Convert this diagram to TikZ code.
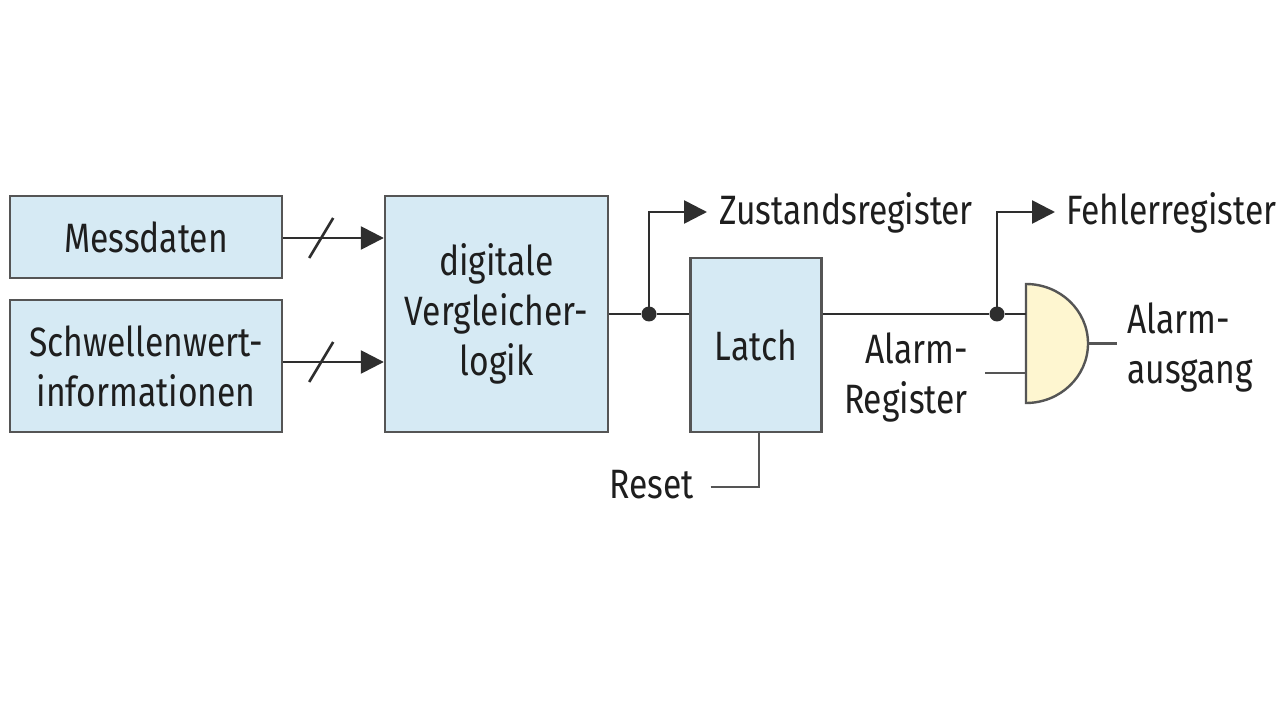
\documentclass[tikz,border=0pt]{standalone}
\usepackage{fontspec}
\setmainfont{Fira Sans}[FakeStretch=0.82]
\usetikzlibrary{arrows.meta,calc}
\definecolor{boxfill}{HTML}{D6EAF4}
\definecolor{boxline}{HTML}{555555}
\definecolor{gatefill}{HTML}{FEF6D0}
\definecolor{wire}{HTML}{2E2E2E}
\definecolor{txt}{HTML}{1E1E1E}
\begin{document}
\begin{tikzpicture}[x=1pt,y=-1pt,
  every node/.style={font=\fontsize{41}{50}\selectfont, text=txt},
  blockbox/.style={draw=boxline, fill=boxfill, line width=2.4pt, inner sep=0pt, align=center},
  wireline/.style={draw=wire, line width=2.6pt},
  arr/.style={wireline, -{Triangle[length=23pt,width=23pt]}},
  junction/.style={circle, fill=wire, inner sep=0pt, minimum size=15pt},
  lbl/.style={inner sep=0pt}
]
\useasboundingbox (0,0) rectangle (1280,719);
\fill[white] (0,0) rectangle (1280,719);

% blocks
\node[blockbox, minimum width=272pt, minimum height=82pt] (mess) at (146,237) {Messdaten};
\node[blockbox, minimum width=272pt, minimum height=132pt] (schw) at (146,366) {Schwellenwert-\\informationen};
\node[blockbox, minimum width=223pt, minimum height=236pt] (dig) at (496.5,314) {digitale\\Vergleicher-\\logik};
\node[blockbox, minimum width=131pt, minimum height=174pt] (latch) at (756,345) {Latch};

% input arrows with bus slashes
\coordinate (a1s) at ([yshift=-1pt]mess.east);
\coordinate (a2s) at ([yshift=4pt]schw.east);
\draw[arr] (a1s) -- (dig.west |- a1s);
\draw[arr] (a2s) -- (dig.west |- a2s);
\coordinate (sl1) at ($(a1s)+(38,0)$);
\coordinate (sl2) at ($(a2s)+(38,0)$);
\draw[wireline] ($(sl1)+(-12,20)$) -- ($(sl1)+(12,-20)$);
\draw[wireline] ($(sl2)+(-12,20)$) -- ($(sl2)+(12,-20)$);

% comparator -> latch with junction
\node[junction] (j1) at (649,314) {};
\draw[wireline] (dig.east |- j1) -- (j1) -- (latch.west |- j1);
\node[lbl, anchor=base west] (zust) at (719,225) {Zustandsregister};
\coordinate (z1) at (649,212);
\draw[arr] (j1.center) -- (z1) -- ($(zust.west |- z1)+(-12,0)$);

% gate (drawn directly)
\coordinate (gtl) at (1026,284);
\coordinate (gbl) at (1026,403);
\coordinate (gin1) at (1026,314);
\coordinate (gin2) at (1026,373);
\coordinate (gout) at (1088,343.5);
\draw[draw=boxline, fill=gatefill, line width=2.4pt]
  (gbl) -- (gtl) arc[start angle=90, end angle=-90, x radius=62pt, y radius=59.5pt] -- cycle;

% latch -> gate with junction
\node[junction] (j2) at (997,314) {};
\draw[wireline] (latch.east |- j2) -- (j2) -- (gin1);
\node[lbl, anchor=base west] (fehl) at (1066,225) {Fehlerregister};
\coordinate (z2) at (997,212);
\draw[arr] (j2.center) -- (z2) -- ($(fehl.west |- z2)+(-11,0)$);

% second gate input
\node[lbl, anchor=base east, align=right] (areg) at (968,413) {Alarm-\\Register};
\coordinate (in2s) at (985,373);
\draw[draw=boxline, line width=2.4pt] (in2s) -- (gin2);

% gate output
\node[lbl, anchor=base west, align=left] (aus) at (1127,383) {Alarm-\\ausgang};
\coordinate (outend) at (1117,343.5);
\draw[draw=boxline, line width=2.4pt] (gout) -- (outend);

% reset
\node[lbl, anchor=base west] (reset) at (609,498) {Reset};
\coordinate (rs) at (759,487);
\draw[draw=boxline, line width=2.4pt] ($(reset.east |- rs)+(17,0)$) -- (rs) -- (latch.south -| rs);
\end{tikzpicture}
\end{document}
